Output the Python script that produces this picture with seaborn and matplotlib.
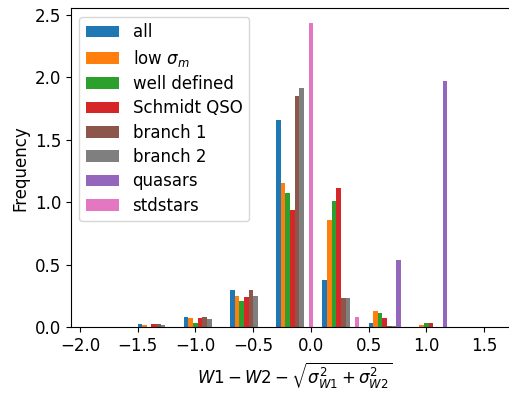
import numpy as np
import pandas as pd
import matplotlib
matplotlib.use("Agg")
import matplotlib.pyplot as plt
import seaborn as sns

# bin centres of the histogram (bin width 0.4)
bin_centers = [-1.34, -0.94, -0.54, -0.14, 0.26, 0.66, 1.06]

labels = ["all", r"low $\sigma_m$", "well defined", "Schmidt QSO",
          "branch 1", "branch 2", "quasars", "stdstars"]

# frequency per bin for each sample
freq_all      = [0.024, 0.080, 0.30, 1.66, 0.375, 0.032, 0.0]
freq_lowsig   = [0.016, 0.072, 0.25, 1.15, 0.86, 0.128, 0.016]
freq_welldef  = [0.0, 0.037, 0.21, 1.07, 1.01, 0.112, 0.032]
freq_schmidt  = [0.024, 0.072, 0.24, 0.94, 1.11, 0.072, 0.032]
freq_branch1  = [0.024, 0.080, 0.30, 1.85, 0.23, 0.008, 0.0]
freq_branch2  = [0.016, 0.062, 0.25, 1.91, 0.23, 0.008, 0.0]
freq_quasars  = [0.0, 0.0, 0.0, 0.0, 0.0, 0.535, 1.97]
freq_stdstars = [0.0, 0.0, 0.0, 2.43, 0.08, 0.0, 0.0]

all_freqs = [freq_all, freq_lowsig, freq_welldef, freq_schmidt,
             freq_branch1, freq_branch2, freq_quasars, freq_stdstars]

rows = []
for lab, fr in zip(labels, all_freqs):
    for c, f in zip(bin_centers, fr):
        rows.append({"x": c, "freq": f, "sample": lab})
df = pd.DataFrame(rows)

# tab10 colours in the order used by the original: C0 C1 C2 C3 C5 C7 C4 C6
tab = sns.color_palette("tab10", 10)
colors = {lab: tab[i] for lab, i in zip(labels, [0, 1, 2, 3, 5, 7, 4, 6])}

fig, ax = plt.subplots(figsize=(5.1, 3.97), dpi=100)
sns.barplot(data=df, x="x", y="freq", hue="sample", hue_order=labels,
            palette=colors, native_scale=True, saturation=1,
            errorbar=None, linewidth=0, width=0.8, ax=ax)

ax.set_xlim(-2.078, 1.795)
ax.set_xticks([-2.0, -1.5, -1.0, -0.5, 0.0, 0.5, 1.0, 1.5])
ax.set_xticklabels(["−2.0", "−1.5", "−1.0", "−0.5", "0.0", "0.5", "1.0", "1.5"], fontsize=12)
ax.set_yticks([0.0, 0.5, 1.0, 1.5, 2.0, 2.5])
ax.set_yticklabels(["0.0", "0.5", "1.0", "1.5", "2.0", "2.5"], fontsize=12)
ax.set_ylim(0, 2.55)
ax.set_xlabel(r"$W1 - W2 - \sqrt{\sigma_{W1}^2 + \sigma_{W2}^2}$", fontsize=12)
ax.set_ylabel("Frequency", fontsize=12)

leg = ax.get_legend()
handles = leg.legend_handles
ax.legend(handles, labels, loc="upper left", fontsize=12, labelspacing=0.38)

fig.subplots_adjust(left=0.139, right=1.016, top=0.979, bottom=0.176)
fig.savefig("out.png", dpi=100)
